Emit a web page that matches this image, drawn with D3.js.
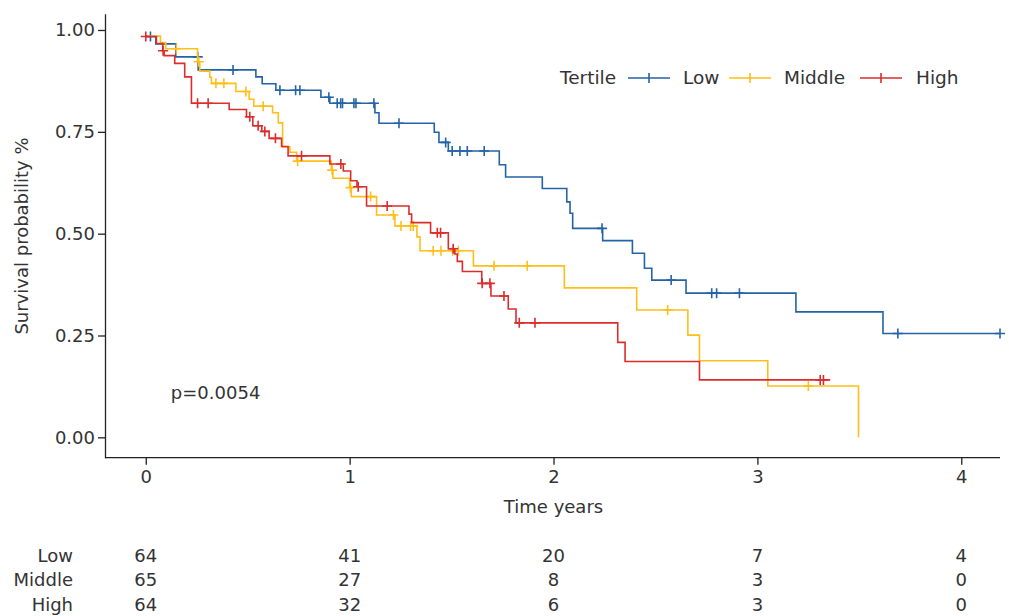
<!DOCTYPE html>
<html>
<head>
<meta charset="utf-8">
<script src="https://cdn.jsdelivr.net/npm/d3@7"></script>
<style>
  body { margin: 0; background: #fff; }
  text { font-family: "DejaVu Sans", sans-serif; fill: #333; }
</style>
</head>
<body>
<script>
// 画布大小
let width = 1009;
let height = 616;

// 各组的生存曲线（时间 = 该时刻的下降点，surv = 下降后的值）
let lowTimes = [0, 0.049, 0.147, 0.257, 0.54, 0.571, 0.638, 0.859, 0.903, 1.124, 1.144, 1.415, 1.438, 1.484, 1.734, 1.765, 1.945, 2.065, 2.081, 2.094, 2.241, 2.387, 2.446, 2.482, 2.65, 3.189, 3.616];
let lowSurv = [0.984, 0.966, 0.934, 0.902, 0.885, 0.868, 0.852, 0.835, 0.820, 0.797, 0.771, 0.749, 0.724, 0.703, 0.669, 0.639, 0.611, 0.578, 0.550, 0.513, 0.483, 0.452, 0.415, 0.386, 0.354, 0.308, 0.255];
let lowCensor = [0.023, 0.255, 0.428, 0.658, 0.735, 0.756, 0.898, 0.939, 0.956, 0.965, 1.021, 1.031, 1.119, 1.242, 1.471, 1.503, 1.541, 1.577, 1.66, 2.238, 2.577, 2.776, 2.80, 2.912, 3.689, 4.19];
let lowEnd = 4.19;

let midTimes = [0, 0.072, 0.098, 0.254, 0.265, 0.314, 0.322, 0.442, 0.507, 0.53, 0.622, 0.65, 0.671, 0.707, 0.74, 0.91, 0.918, 1.0, 1.008, 1.132, 1.222, 1.33, 1.345, 1.607, 2.053, 2.408, 2.659, 2.716, 3.051, 3.496];
let midSurv = [0.985, 0.969, 0.954, 0.922, 0.899, 0.884, 0.869, 0.849, 0.830, 0.813, 0.797, 0.772, 0.713, 0.700, 0.678, 0.656, 0.636, 0.613, 0.591, 0.546, 0.519, 0.492, 0.458, 0.421, 0.367, 0.3125, 0.251, 0.188, 0.126, 0.0];
let midCensor = [0.15, 0.26, 0.344, 0.383, 0.491, 0.576, 0.745, 0.914, 1.004, 1.103, 1.215, 1.252, 1.299, 1.312, 1.41, 1.448, 1.505, 1.533, 1.708, 1.871, 2.56, 3.25];
let midEnd = 3.496;

let highTimes = [0, 0.052, 0.083, 0.09, 0.142, 0.191, 0.224, 0.409, 0.494, 0.525, 0.569, 0.605, 0.666, 0.698, 0.903, 0.969, 1.005, 1.036, 1.083, 1.291, 1.304, 1.397, 1.484, 1.516, 1.528, 1.553, 1.648, 1.693, 1.778, 1.816, 2.315, 2.351, 2.716];
let highSurv = [0.984, 0.967, 0.949, 0.937, 0.918, 0.885, 0.820, 0.805, 0.787, 0.765, 0.751, 0.734, 0.714, 0.691, 0.671, 0.654, 0.630, 0.615, 0.568, 0.548, 0.527, 0.502, 0.463, 0.450, 0.432, 0.407, 0.378, 0.347, 0.315, 0.281, 0.233, 0.186, 0.141];
let highCensor = [0.0, 0.085, 0.254, 0.306, 0.51, 0.551, 0.584, 0.636, 0.764, 0.957, 1.042, 1.184, 1.43, 1.446, 1.508, 1.65, 1.688, 1.757, 1.832, 1.909, 3.308, 3.324];
let highEnd = 3.357;

// 风险表
let groupNames = ['Low', 'Middle', 'High'];
let groupColors = ['#2463a8', '#ffbf1a', '#dd2c2c'];
let riskTimes = [0, 1, 2, 3, 4];
let riskLow = [64, 41, 20, 7, 4];
let riskMid = [65, 27, 8, 3, 0];
let riskHigh = [64, 32, 6, 3, 0];

let groups = [
  { name: 'Low', times: lowTimes, surv: lowSurv, censor: lowCensor, end: lowEnd, color: groupColors[0] },
  { name: 'Middle', times: midTimes, surv: midSurv, censor: midCensor, end: midEnd, color: groupColors[1] },
  { name: 'High', times: highTimes, surv: highSurv, censor: highCensor, end: highEnd, color: groupColors[2] },
];

let x = d3.scaleLinear().domain([-0.2, 4.19]).range([105, 1000]);
let y = d3.scaleLinear().domain([-0.05, 1.04]).range([457.7, 13.7]);

let svg = d3.select('body').append('svg')
  .attr('width', width)
  .attr('height', height);

// 坐标轴
let xAxis = g => g
  .attr('transform', `translate(0,${y(-0.05)})`)
  .call(d3.axisBottom(x).tickValues(riskTimes).tickFormat(d3.format('d')).tickSize(7).tickPadding(6).tickSizeOuter(0))
  .call(g => g.select('.domain').attr('d', `M${x(-0.2)},0H${x(4.19)}`));

let yAxis = g => g
  .attr('transform', `translate(${x(-0.2)},0)`)
  .call(d3.axisLeft(y).tickValues([0, 0.25, 0.5, 0.75, 1]).tickFormat(d3.format('.2f')).tickSize(7).tickPadding(3).tickSizeOuter(0));

svg.append('g').attr('class', 'x-axis').call(xAxis);
svg.append('g').attr('class', 'y-axis').call(yAxis);

svg.selectAll('.tick text').attr('font-size', '18px').attr('fill', '#333').attr('font-family', '"DejaVu Sans", sans-serif');
svg.selectAll('.domain, .tick line').attr('stroke', '#222').attr('stroke-width', 1.3);

svg.append('text')
  .attr('transform', 'translate(28,236) rotate(-90)')
  .attr('text-anchor', 'middle')
  .attr('font-size', '18px')
  .text('Survival probability %');

svg.append('text')
  .attr('x', x(2))
  .attr('y', 513)
  .attr('text-anchor', 'middle')
  .attr('font-size', '18px')
  .text('Time years');

// 阶梯曲线
let line = d3.line()
  .curve(d3.curveStepAfter)
  .x(d => x(d[0]))
  .y(d => y(d[1]));

function survAt(grp, t) {
  let s = 1;
  grp.times.forEach((tt, i) => { if (tt <= t) s = grp.surv[i]; });
  return s;
}

groups.forEach(grp => {
  let pts = grp.times.map((t, i) => [t, grp.surv[i]]);
  pts.push([grp.end, grp.surv[grp.surv.length - 1]]);

  svg.append('path')
    .datum(pts)
    .attr('fill', 'none')
    .attr('stroke', grp.color)
    .attr('stroke-width', 1.6)
    .attr('d', line);

  svg.append('g')
    .selectAll('path')
    .data(grp.censor)
    .enter()
    .append('path')
    .attr('d', t => {
      let cx = x(t), cy = y(survAt(grp, t));
      return `M${cx - 5},${cy}H${cx + 5}M${cx},${cy - 5}V${cy + 5}`;
    })
    .attr('stroke', grp.color)
    .attr('stroke-width', 1.6)
    .attr('fill', 'none');
});

// p 值
svg.append('text')
  .attr('x', x(0.123))
  .attr('y', y(0.095))
  .attr('font-size', '18px')
  .text('p=0.0054');

// 图例
let legend = svg.append('g');
legend.append('text').attr('x', 560).attr('y', 84).attr('font-size', '18.5px').text('Tertile');
let legendX = [628, 729, 860];
let labelX = [683, 784, 916];
groups.forEach((grp, i) => {
  let lx = legendX[i];
  legend.append('path')
    .attr('d', `M${lx},78H${lx + 42}M${lx + 21},73V83`)
    .attr('stroke', grp.color)
    .attr('stroke-width', 1.6);
  legend.append('text').attr('x', labelX[i]).attr('y', 84).attr('font-size', '18.5px').text(grp.name);
});

// 风险表
let riskRows = [riskLow, riskMid, riskHigh];
let rowY = [562, 586, 611];
riskRows.forEach((row, i) => {
  svg.append('text')
    .attr('x', 73)
    .attr('y', rowY[i])
    .attr('text-anchor', 'end')
    .attr('font-size', '18px')
    .text(groupNames[i]);
  svg.append('g')
    .selectAll('text')
    .data(row)
    .enter()
    .append('text')
    .attr('x', (d, j) => x(riskTimes[j]))
    .attr('y', rowY[i])
    .attr('text-anchor', 'middle')
    .attr('font-size', '18px')
    .text(d => d);
});
</script>
</body>
</html>
